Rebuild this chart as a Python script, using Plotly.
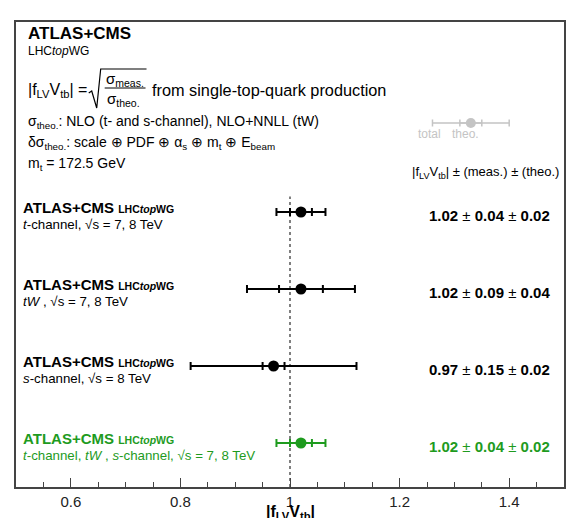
import numpy as np
import plotly.graph_objects as go

# ---------------- data ----------------
row_ids = ["t-channel", "tW", "s-channel", "combined"]
values = [1.02, 1.02, 0.97, 1.02]
meas_unc = [0.04, 0.09, 0.15, 0.04]
theo_unc = [0.02, 0.04, 0.02, 0.02]
row_pos = [4, 3, 2, 1]
subtitles = [
    "<i>t</i>-channel, √s = 7, 8 TeV",
    "<i>tW</i> , √s = 7, 8 TeV",
    "<i>s</i>-channel, √s = 8 TeV",
    "<i>t</i>-channel, <i>tW</i> , <i>s</i>-channel, √s = 7, 8 TeV",
]
legend_value = 1.33
legend_total = 0.07
legend_theo = 0.02
legend_row = 5.156
tick_vals = [0.6, 0.8, 1.0, 1.2, 1.4]
tick_text = ["0.6", "0.8", "1", "1.2", "1.4"]

GREEN = "#1e9b1e"
GRAY = "#c4c4c4"
FRAME = "#444444"
FONT = "Liberation Sans, Arial, sans-serif"
row_colors = ["black", "black", "black", GREEN]

W, H = 572, 518
L, R, T, B = 16, 6, 22, 31
PW, PH = W - L - R, H - T - B
YMIN = 1 - (487 - 443) / 77.0
YMAX = YMIN + PH / 77.0


def px(x):
    return (x - L) / PW


def py(y):
    return (H - B - y) / PH


total_unc = [float(np.hypot(m, t)) for m, t in zip(meas_unc, theo_unc)]

fig = go.Figure()

for v, tot, th, yr, c in zip(values, total_unc, theo_unc, row_pos, row_colors):
    fig.add_trace(go.Scatter(
        x=[v], y=[yr], mode="markers", marker=dict(size=1, color=c),
        error_x=dict(type="data", array=[tot], color=c, thickness=2, width=4),
        showlegend=False, hoverinfo="skip"))
    fig.add_trace(go.Scatter(
        x=[v], y=[yr], mode="markers", marker=dict(size=1, color=c),
        error_x=dict(type="data", array=[th], color=c, thickness=2, width=4),
        showlegend=False, hoverinfo="skip"))
    fig.add_trace(go.Scatter(
        x=[v], y=[yr], mode="markers", marker=dict(size=11, color=c),
        showlegend=False, hoverinfo="skip"))

# legend sample (gray)
fig.add_trace(go.Scatter(
    x=[legend_value], y=[legend_row], mode="markers", marker=dict(size=1, color=GRAY),
    error_x=dict(type="data", array=[legend_total], color=GRAY, thickness=1.5, width=3.5),
    showlegend=False, hoverinfo="skip"))
fig.add_trace(go.Scatter(
    x=[legend_value], y=[legend_row], mode="markers", marker=dict(size=1, color=GRAY),
    error_x=dict(type="data", array=[legend_theo], color=GRAY, thickness=1.5, width=3.5),
    showlegend=False, hoverinfo="skip"))
fig.add_trace(go.Scatter(
    x=[legend_value], y=[legend_row], mode="markers", marker=dict(size=10, color=GRAY),
    showlegend=False, hoverinfo="skip"))

# dotted reference line at 1
fig.add_shape(type="line", xref="x", yref="y", x0=1, x1=1, y0=YMIN, y1=4.2,
              line=dict(color="#555555", width=1.5, dash="dot"), layer="below")

ann = []


def add_text(text, x, y, size, anchor="left", color="black", xref="paper", yref="paper",
             yshift=0):
    ann.append(dict(text=text, x=x, y=y, xref=xref, yref=yref, xanchor=anchor,
                    yanchor="middle", showarrow=False, yshift=yshift,
                    font=dict(size=size, color=color, family=FONT)))


# header
add_text("<b>ATLAS+CMS</b>", px(26), py(34), 17)
add_text("LHC<i>top</i>WG", px(26), py(51), 12)
add_text("|f<sub>LV</sub>V<sub>tb</sub>| =", px(26), py(90), 16)
add_text("σ<sub>meas.</sub>", px(125), py(79), 15, anchor="center")
add_text("σ<sub>theo.</sub>", px(124), py(99), 15, anchor="center")
add_text("from single-top-quark production", px(150), py(90), 16.3)
add_text("σ<sub>theo.</sub>: NLO (t- and s-channel), NLO+NNLL (tW)", px(26), py(122), 14)
add_text("δσ<sub>theo.</sub>: scale ⊕ PDF ⊕ α<sub>s</sub> ⊕ m<sub>t</sub> ⊕ E<sub>beam</sub>",
         px(26), py(143), 14)
add_text("m<sub>t</sub> = 172.5 GeV", px(26), py(164), 14)
add_text("|f<sub>LV</sub>V<sub>tb</sub>| ± (meas.) ± (theo.)", px(563), py(172), 13,
         anchor="right")
add_text("total", px(431), py(134), 12, anchor="center", color=GRAY)
add_text("theo.", px(467), py(134), 12, anchor="center", color=GRAY)

# radical sign and fraction bar
fig.add_shape(type="path", xref="paper", yref="paper",
              path=(f"M {px(89)},{py(93)} L {px(92)},{py(91)} L {px(97)},{py(108)} "
                    f"L {px(101)},{py(69)} L {px(147)},{py(69)}"),
              line=dict(color="black", width=1.2))
fig.add_shape(type="line", xref="paper", yref="paper", x0=px(105), x1=px(146),
              y0=py(88), y1=py(88), line=dict(color="black", width=1))

# row labels and values
for v, m, th, yr, c, sub in zip(values, meas_unc, theo_unc, row_pos, row_colors, subtitles):
    add_text("<b>ATLAS+CMS</b> <b><span style='font-size:10.5px'>LHC<i>top</i>WG</span></b>",
             px(21), yr, 15, color=c, yref="y", yshift=5)
    add_text(sub, px(21), yr, 13.3, color=c, yref="y", yshift=-12)
    add_text(f"<b>{v:.2f}</b> ± <b>{m:.2f}</b> ± <b>{th:.2f}</b>", px(554), yr, 15,
             anchor="right", color=c, yref="y", yshift=-3)

# axis title
add_text("<b>|f<sub>LV</sub>V<sub>tb</sub>|</b>", 0.5, py(512), 16, anchor="center")

fig.update_layout(
    width=W, height=H,
    margin=dict(l=L, r=R, t=T, b=B, pad=0),
    paper_bgcolor="white", plot_bgcolor="white",
    font=dict(family=FONT, color="black"),
    annotations=ann,
    showlegend=False,
    xaxis=dict(range=[0.5, 1.5], showgrid=False, zeroline=False,
               showline=True, mirror=True, linecolor=FRAME, linewidth=1.5,
               ticks="inside", ticklen=9, tickwidth=1, tickcolor=FRAME,
               tickvals=tick_vals, ticktext=tick_text,
               tickfont=dict(size=15, color="#222222", family=FONT),
               minor=dict(ticks="inside", ticklen=5, tickcolor=FRAME, tick0=0.5,
                          dtick=0.05, showgrid=False)),
    yaxis=dict(range=[YMIN, YMAX], showgrid=False, zeroline=False,
               showline=True, mirror=True, linecolor=FRAME, linewidth=1.5,
               showticklabels=False, ticks=""),
)

fig.write_html("out.html")
